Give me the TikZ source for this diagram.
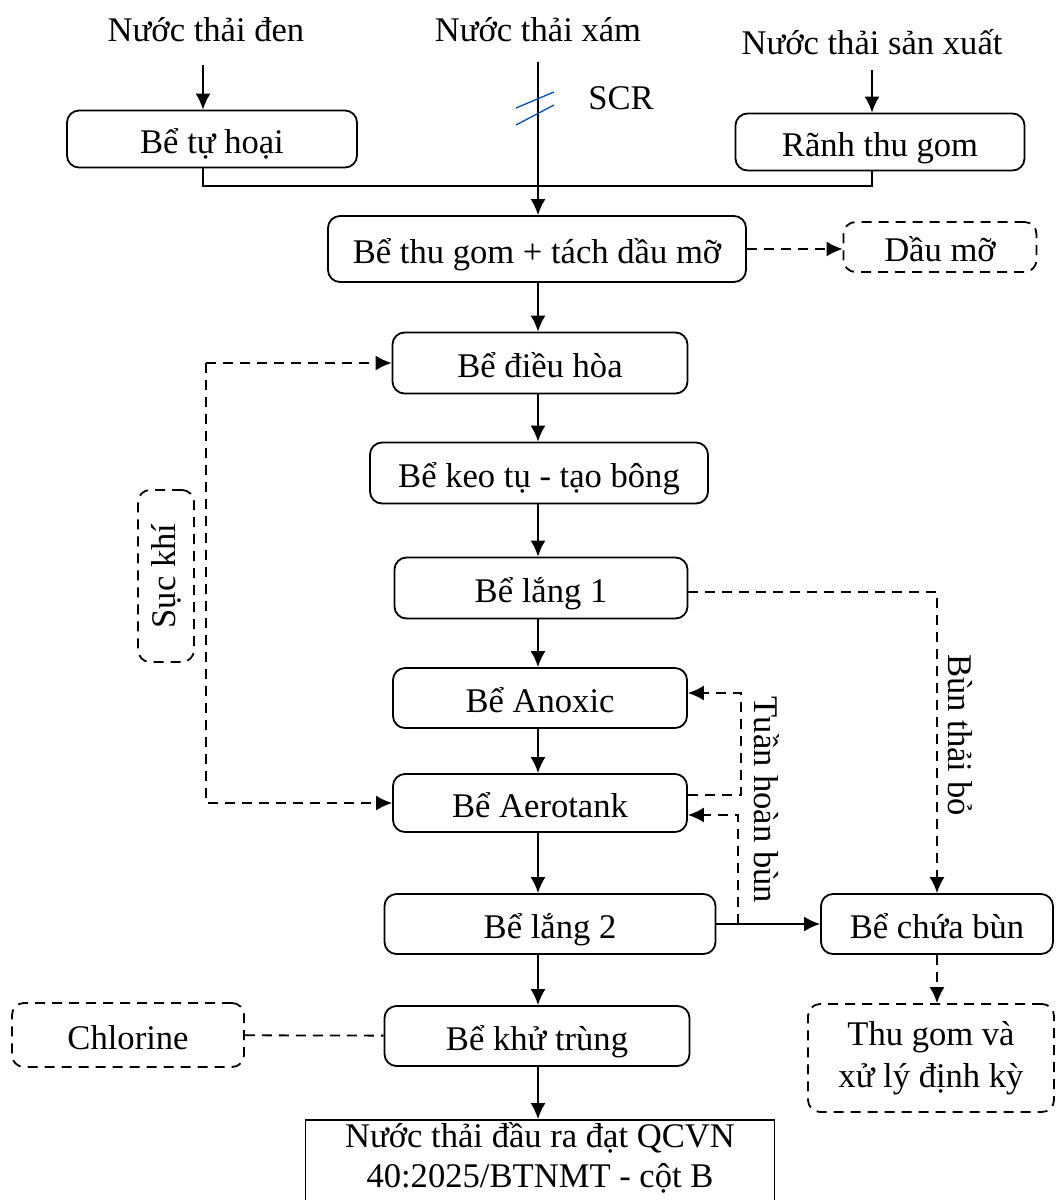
\documentclass[tikz,border=0pt]{standalone}
\usepackage{fontspec}
\setmainfont{Liberation Serif}
\usetikzlibrary{arrows.meta}

\begin{document}
\begin{tikzpicture}[x=1pt,y=-1pt,
  font=\fontsize{34.6}{42}\selectfont,
  line width=1.8pt,
  >={Latex[length=16pt,width=15pt]},
  box/.style={draw,rounded corners=12pt,inner sep=0pt,align=center,minimum height=60pt},
  tank/.style={box,text height=28pt,text depth=0pt},
  dtank/.style={tank,dash pattern=on 10pt off 7pt},
  dbox/.style={box,dash pattern=on 10pt off 7pt},
  dline/.style={dash pattern=on 10pt off 7pt}]
  \clip (0,0) rectangle (1058,1200);
  % inputs
  \node (den) at (206,30) {Nước thải đen};
  \node (xam) at (538,30) {Nước thải xám};
  \node (sx) at (872,42) {Nước thải sản xuất};
  \coordinate (denin) at (203,65);
  \coordinate (xamin) at (538,62);
  \coordinate (sxin) at (872,70);
  \coordinate (mid) at (538,186);
  \coordinate (ax) at (538,0);
  % tanks
  \node[tank,minimum width=290pt,minimum height=57pt] (tuhoai) at (212,139) {Bể tự hoại};
  \node[tank,minimum width=289pt,minimum height=57pt] (ranh) at (880,142) {Rãnh thu gom};
  \node[tank,minimum width=418pt,minimum height=66pt] (thugom) at (537,249) {Bể thu gom + tách dầu mỡ};
  \node[dtank,minimum width=193pt,minimum height=50pt] (daumo) at (940,247) {Dầu mỡ};
  \node[tank,minimum width=295pt,minimum height=61pt] (dieuhoa) at (540,363) {Bể điều hòa};
  \node[tank,minimum width=338pt,minimum height=61pt] (keotu) at (539,473) {Bể keo tụ - tạo bông};
  \node[tank,minimum width=293pt,minimum height=61pt] (lang1) at (541,588) {Bể lắng 1};
  \node[tank,minimum width=294pt] (anoxic) at (540,698) {Bể Anoxic};
  \node[tank,minimum width=294pt,minimum height=58pt] (aerotank) at (540,803) {Bể Aerotank};
  \node[tank,minimum width=331pt] (lang2) at (550,924) {Bể lắng 2};
  \node[tank,minimum width=305pt] (khutrung) at (537,1036) {Bể khử trùng};
  \node[draw,inner sep=0pt,minimum width=469pt,minimum height=90pt] (out) at (540,1165) {};
  \node[align=center,font=\fontsize{34.6}{40}\selectfont] (outtxt) at (540,1158)
    {Nước thải đầu ra đạt QCVN\\40:2025/BTNMT - cột B};
  \node[dtank,minimum width=232pt,minimum height=64pt] (chlorine) at (128,1035) {Chlorine};
  \node[tank,minimum width=232pt] (chuabun) at (937,924) {Bể chứa bùn};
  \node[dbox,minimum width=246pt,minimum height=108pt] (thugomxl) at (931,1058) {Thu gom và\\xử lý định kỳ};
  \node[dbox,minimum width=56pt,minimum height=172pt] (suckhi) at (166,576) {};
  \node[rotate=90] (suckhilbl) at (166,576) {Sục khí};
  % inflow
  \draw[->] (denin) -- (denin |- tuhoai.north);
  \draw[->] (sxin) -- (sxin |- ranh.north);
  \draw[->] (xamin) -- (xamin |- thugom.north);
  \draw (denin |- tuhoai.south) |- (mid) -| (sxin |- ranh.south);
  \draw[blue!55!cyan!70!black,line width=1.3pt] (516,108) -- (554,92) (516,125) -- (554,105);
  \node (scr) at (621,98) {SCR};
  % main line
  \draw[->,dline] (thugom.east) -- (thugom.east -| daumo.west);
  \draw[->] (ax |- thugom.south) -- (ax |- dieuhoa.north);
  \draw[->] (ax |- dieuhoa.south) -- (ax |- keotu.north);
  \draw[->] (ax |- keotu.south) -- (ax |- lang1.north);
  \draw[->] (ax |- lang1.south) -- (ax |- anoxic.north);
  \draw[->] (ax |- anoxic.south) -- (ax |- aerotank.north);
  \draw[->] (ax |- aerotank.south) -- (ax |- lang2.north);
  \draw[->] (ax |- lang2.south) -- (ax |- khutrung.north);
  \draw[->] (ax |- khutrung.south) -- (ax |- out.north);
  \draw[dline] (chlorine) -- (khutrung);
  % air
  \coordinate (air) at (206,363);
  \draw[->,dline] (air) -- (dieuhoa.west);
  \draw[->,dline] (air) |- (aerotank.west);
  % sludge
  \draw[->,dline] ([yshift=-4pt]lang1.east) -| (chuabun.north);
  \node[rotate=-90] (btb) at (960,735) {Bùn thải bỏ};
  \draw[->] (lang2) -- (chuabun);
  \draw[->,dline] (chuabun.south) -- (chuabun.south |- thugomxl.north);
  \coordinate (rc) at (741,745);
  \coordinate (rb) at (738,0);
  \draw[->,dline] ([yshift=8pt]aerotank.east) -| (rc) |- ([yshift=5pt]anoxic.east);
  \draw[->,dline] (rb |- lang2.east) |- ([yshift=-12pt]aerotank.east);
  \node[rotate=-90] (thb) at (767,800) {Tuần hoàn bùn};
\end{tikzpicture}
\end{document}
